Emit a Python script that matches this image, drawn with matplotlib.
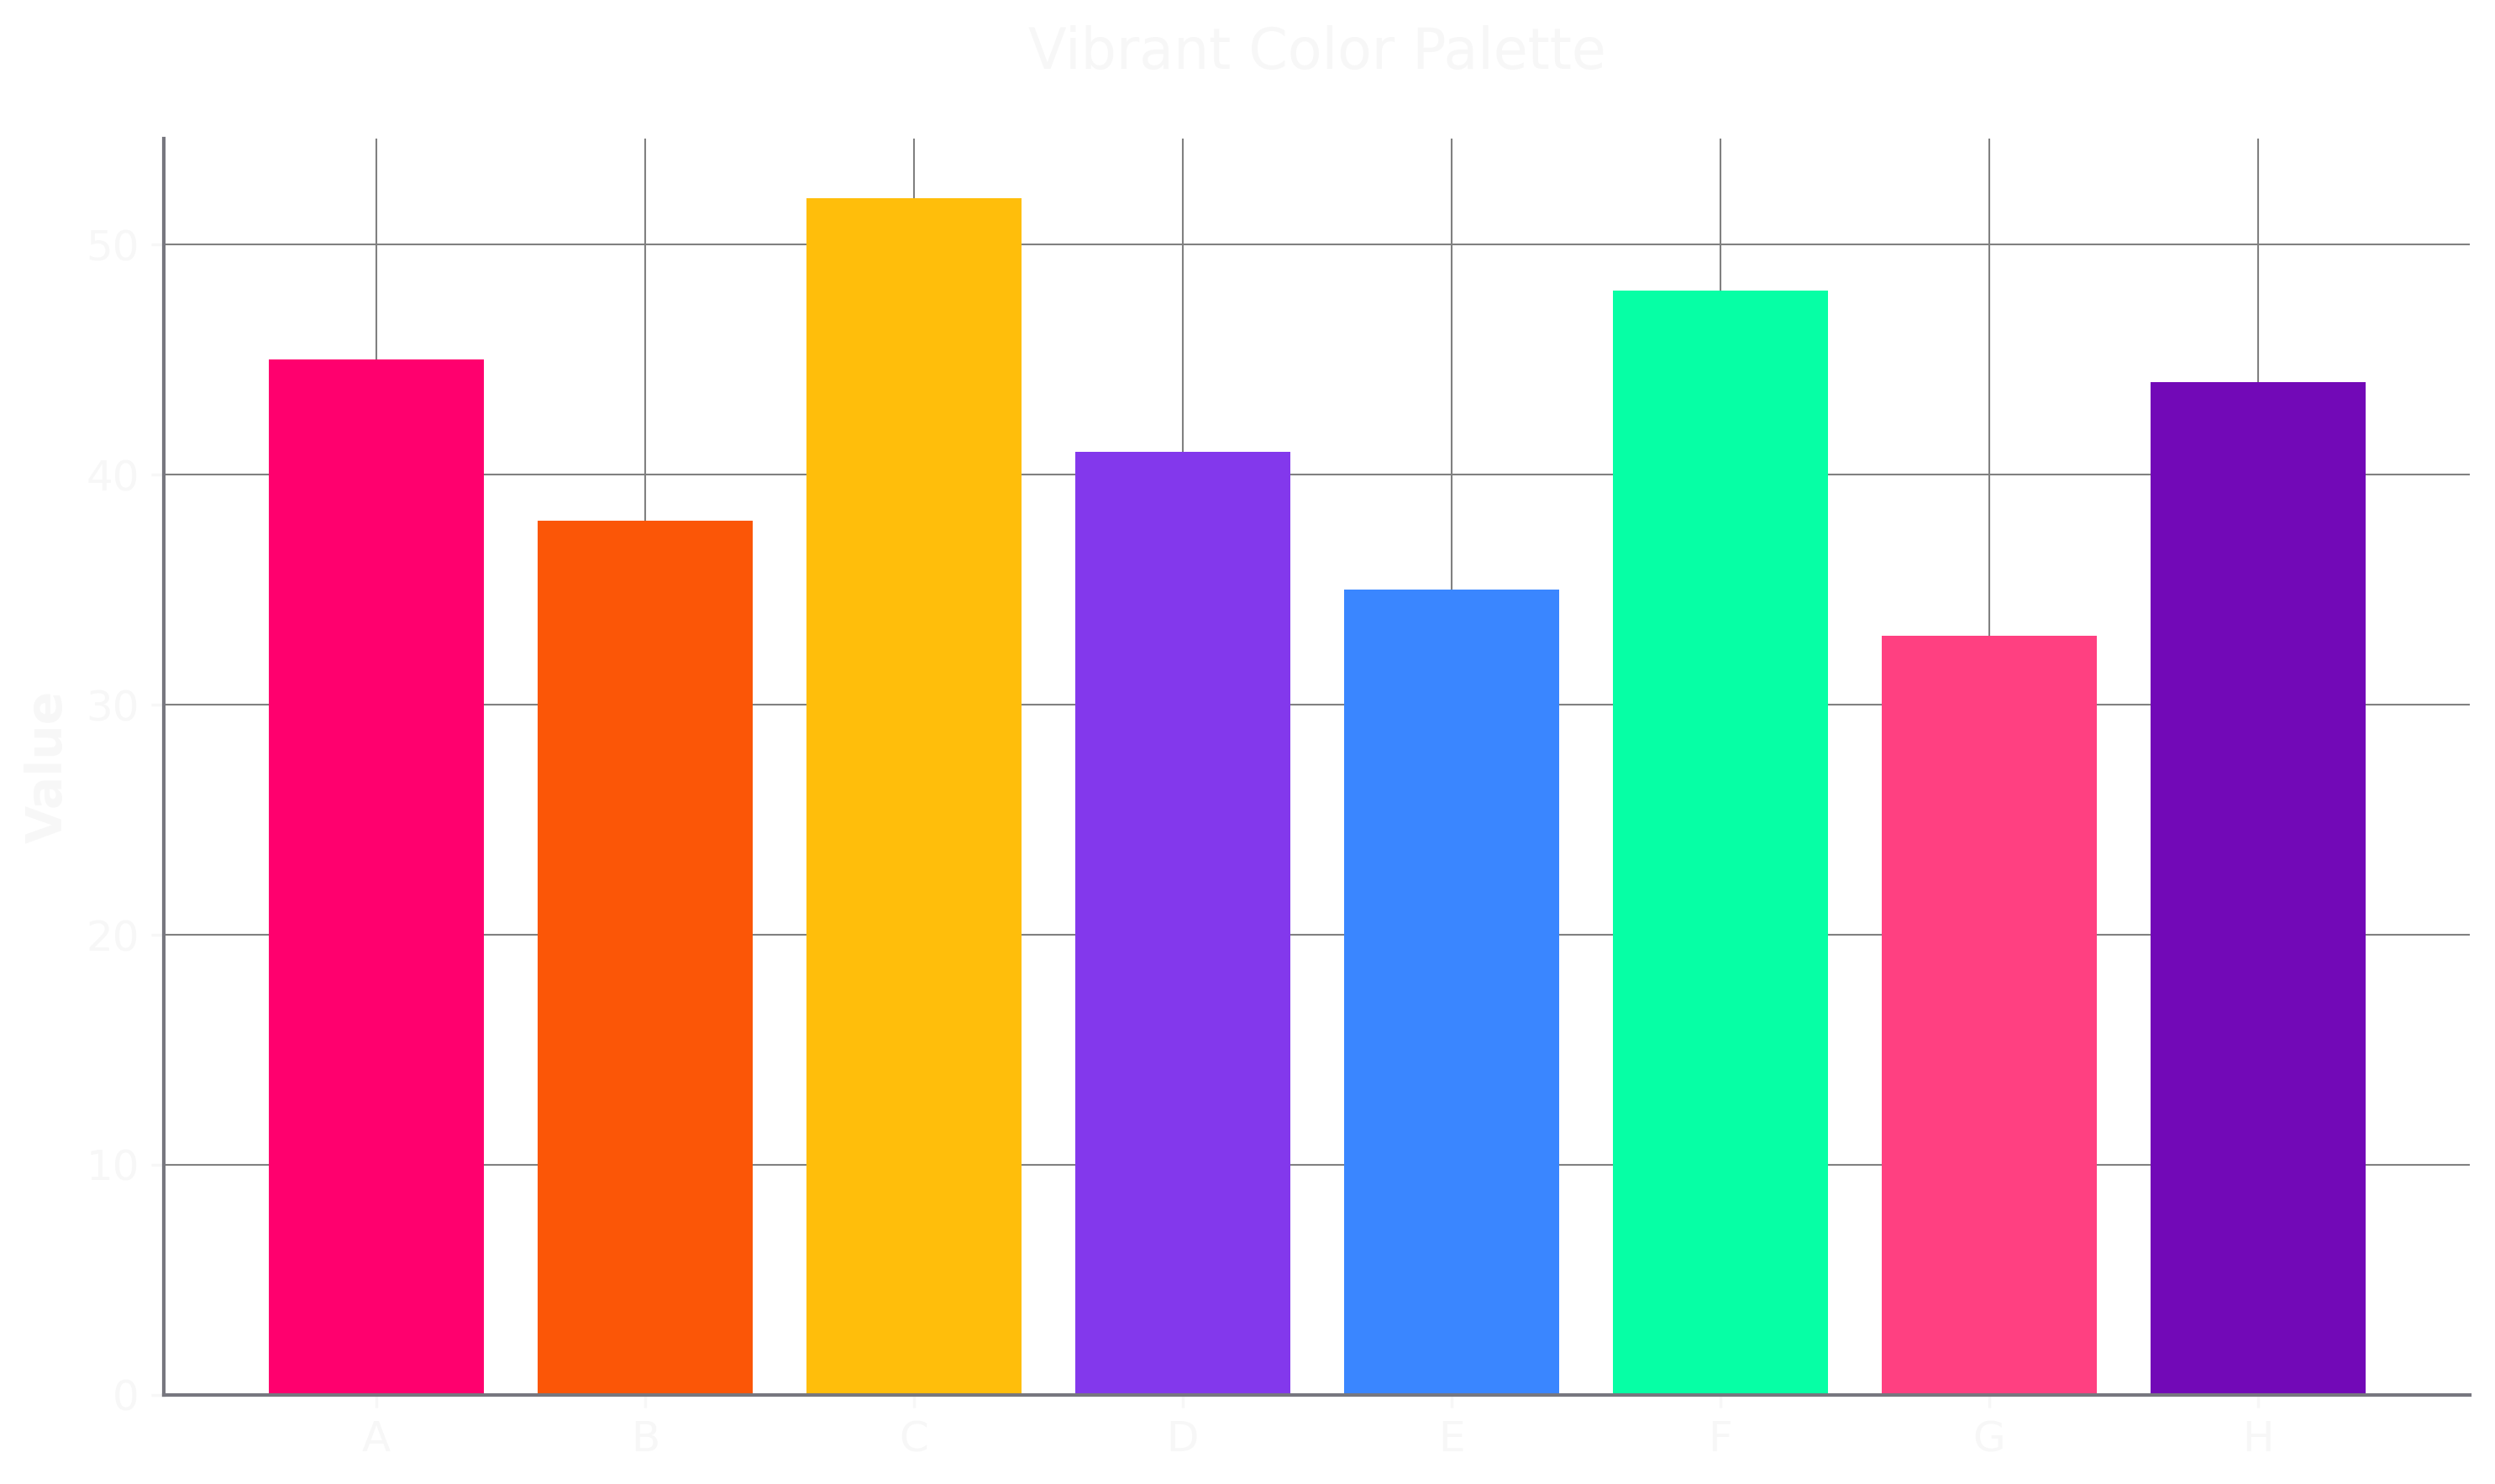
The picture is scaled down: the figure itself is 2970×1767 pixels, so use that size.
import numpy as np
import matplotlib.pyplot as plt

categories = ['A', 'B', 'C', 'D', 'E', 'F', 'G', 'H']
values = [45, 38, 52, 41, 35, 48, 33, 44]
colors = ['#FF006E', '#FB5607', '#FFBE0B', '#8338EC', '#3A86FF', '#06FFA5', '#FF4081', '#7209B7']

text_color = '#f7f7f7'

fig, ax = plt.subplots(figsize=(9.9, 5.89), dpi=300)
fig.subplots_adjust(left=0.0657, right=0.990, bottom=0.06, top=0.9066)

x = np.arange(len(categories))
ax.bar(x, values, color=colors, width=0.8, zorder=2)
ax.set_xticks(x)
ax.set_xticklabels(categories)

# Grid behind the bars
ax.set_axisbelow(True)
ax.grid(True, color='#808080', linewidth=0.5)

ax.spines['top'].set_visible(False)
ax.spines['right'].set_visible(False)
for side in ['left', 'bottom']:
    ax.spines[side].set_color('#77777f')
    ax.spines[side].set_linewidth(1.0)

ax.tick_params(colors=text_color, labelsize=12)
ax.set_ylabel('Value', fontsize=14, fontweight='bold', color=text_color)
ax.set_title('Vibrant Color Palette', fontsize=16, color=text_color, pad=20)

fig.savefig('out.png', dpi=300)
